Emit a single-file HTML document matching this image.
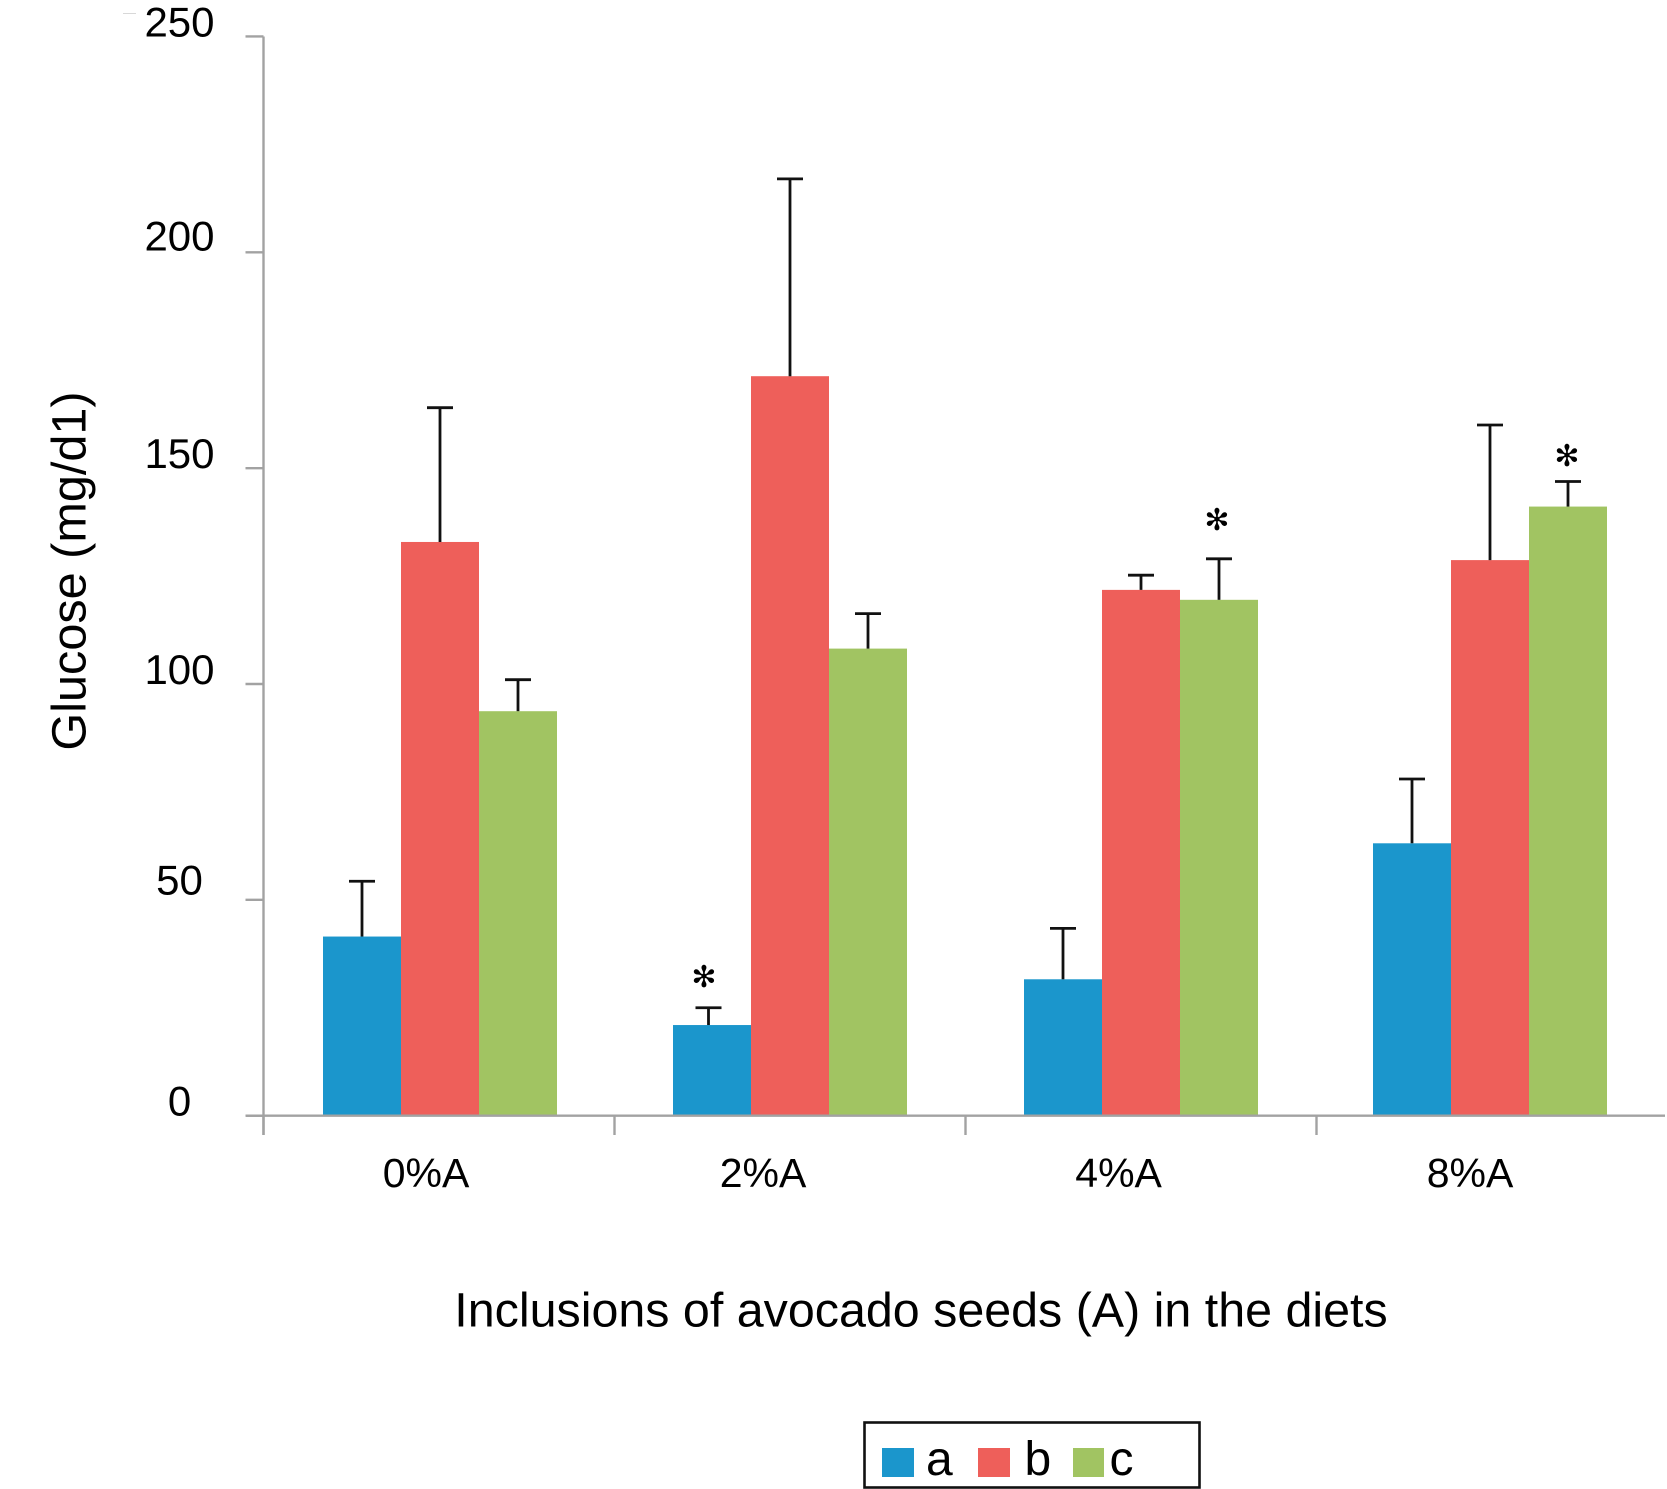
<!DOCTYPE html>
<html lang="en">
<head>
<meta charset="utf-8">
<title>Glucose by avocado seed inclusion</title>
<style>
  html, body { margin: 0; padding: 0; background: #fff; }
  body { width: 1667px; height: 1489px; overflow: hidden; }
  svg { display: block; }
  text { font-family: "Liberation Sans", sans-serif; fill: #000; }
</style>
</head>
<body>
<svg id="chart" width="1667" height="1489" viewBox="0 0 1667 1489" xmlns="http://www.w3.org/2000/svg">
  <rect x="0" y="0" width="1667" height="1489" fill="#ffffff"/>
  <line x1="123" y1="13.5" x2="136" y2="13.5" stroke="#d8d8d8" stroke-width="1"/>
  <g id="bars"></g>
  <g id="axes"></g>
  <g id="errors"></g>
  <g id="marks"></g>
  <text x="921" y="1326.5" font-size="48.4" text-anchor="middle">Inclusions of avocado seeds (A) in the diets</text>
  <text transform="translate(85.5 571) rotate(-90)" font-size="48.6" text-anchor="middle">Glucose (mg/d1)</text>
  <g>
    <rect x="864.5" y="1422.5" width="335" height="65" fill="#fff" stroke="#111" stroke-width="2.6"/>
    <rect x="882" y="1448" width="32" height="29" fill="#1b96cc"/>
    <text x="926" y="1475" font-size="48">a</text>
    <rect x="978" y="1448" width="32" height="29" fill="#ee5f5a"/>
    <text x="1024.5" y="1475" font-size="48">b</text>
    <rect x="1073" y="1448" width="31" height="29" fill="#a1c462"/>
    <text x="1109.5" y="1475" font-size="48">c</text>
  </g>
</svg>
<script>
// Chart data
const categories = ["0%A", "2%A", "4%A", "8%A"];
const seriesNames = ["a", "b", "c"];
const valuesA = [41.5, 21, 31.6, 63.1];
const valuesB = [132.9, 171.3, 121.8, 128.7];
const valuesC = [93.7, 108.2, 119.5, 141.1];
const errorTopA = [54.3, 25, 43.4, 78];
const errorTopB = [164, 217, 125.2, 160];
const errorTopC = [101, 116.3, 129, 146.9];
const yTicks = [0, 50, 100, 150, 200, 250];
const starSeries = [0, 2, 2];
const starCategory = [1, 2, 3];
const starValue = [32.4, 138.2, 153.1];

// Layout and axis functions
const NS = "http://www.w3.org/2000/svg";
const colors = ["#1b96cc", "#ee5f5a", "#a1c462"];
const axisColor = "#a2a2a2";
const baseY = 1115.7, unit = 4.317, barW = 78;
const yScale = v => baseY - v * unit;
const groupNudge = [0, 0, 1, 0];
const groupX = i => 323 + 350 * i + groupNudge[i];
const barX = (i, s) => groupX(i) + s * barW;
const tickX = i => 263.5 + 351 * i;
const xLabelNudge = [-8, -22, -17.4, -17];
const labelX = i => 434 + 351 * i + xLabelNudge[i];
const yLabelNudge = [0, -5.3, 0, 0, -2, 0];
const stemShift = (i, s) => (i === 1 && s === 0 ? -3.5 : 0);
const starNudge = [-4.5, -2, -1];

const allValues = [valuesA, valuesB, valuesC];
const allErrors = [errorTopA, errorTopB, errorTopC];

function make(tag, attrs, parent) {
  const el = document.createElementNS(NS, tag);
  for (const k in attrs) el.setAttribute(k, attrs[k]);
  parent.appendChild(el);
  return el;
}

const barsG = document.getElementById("bars");
const axesG = document.getElementById("axes");
const errorsG = document.getElementById("errors");
const marksG = document.getElementById("marks");

// Bars and error bars
categories.forEach((cat, i) => {
  seriesNames.forEach((name, s) => {
    const v = allValues[s][i];
    const top = yScale(v);
    const bar = make("rect", { x: barX(i, s), y: top, width: barW, height: baseY - top, fill: colors[s] }, barsG);
    
    

    const cx = barX(i, s) + barW / 2 + stemShift(i, s);
    const capY = yScale(allErrors[s][i]);
    const stem = make("line", { x1: cx, y1: top, x2: cx, y2: capY, stroke: "#111", "stroke-width": 2.8 }, errorsG);
    
    
    const cap = make("line", { x1: cx - 13, y1: capY, x2: cx + 13, y2: capY, stroke: "#111", "stroke-width": 2.8 }, errorsG);
    
    
  });
});

// Y axis
const yAxisLine = make("line", { x1: 263.5, y1: yScale(250), x2: 263.5, y2: 1135, stroke: axisColor, "stroke-width": 2.4 }, axesG);



yTicks.forEach((t, k) => {
  const tick = make("line", { x1: 245.5, y1: yScale(t), x2: 263.5, y2: yScale(t), stroke: axisColor, "stroke-width": 2.4 }, axesG);
  
  
  const label = make("text", { x: 179.5, y: yScale(t) + yLabelNudge[k], "font-size": 42, "text-anchor": "middle" }, axesG);
  label.textContent = String(t);
  
  
});

// X axis
const xAxisLine = make("line", { x1: 246, y1: baseY, x2: 1665, y2: baseY, stroke: axisColor, "stroke-width": 2.4 }, axesG);



categories.forEach((cat, i) => {
  const tick = make("line", { x1: tickX(i), y1: baseY, x2: tickX(i), y2: 1135, stroke: axisColor, "stroke-width": 2.4 }, axesG);
  
  
  const label = make("text", { x: labelX(i), y: 1187, "font-size": 41, "text-anchor": "middle" }, axesG);
  label.textContent = cat;
  
  
});

// Significance asterisks
starValue.forEach((v, k) => {
  const cx = barX(starCategory[k], starSeries[k]) + barW / 2 + stemShift(starCategory[k], starSeries[k]) + starNudge[k];
  const star = make("text", { x: cx, y: yScale(v) + 11, "font-size": 30, "text-anchor": "middle", style: 'font-family:"DejaVu Sans",sans-serif' }, marksG);
  star.textContent = "\u273B";
  
  
});
</script>
</body>
</html>
